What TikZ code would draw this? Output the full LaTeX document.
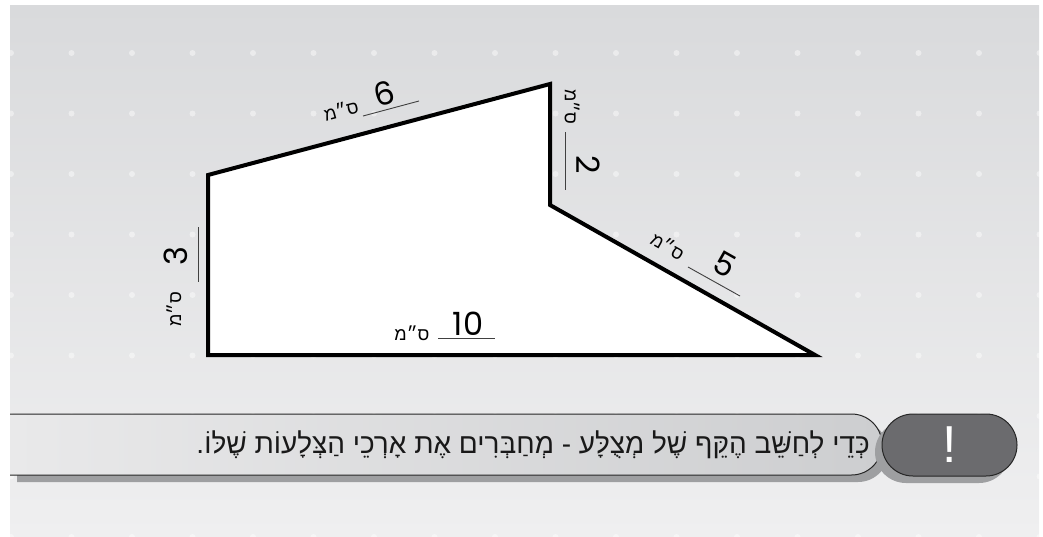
\documentclass[tikz,border=0pt]{standalone}
\usepackage{fontspec}
\setmainfont{Liberation Sans}
\newfontfamily\hebfont[Script=Hebrew]{Liberation Sans}
\newfontfamily\numfont{Poppins}
\TeXXeTstate=1
\usetikzlibrary{positioning,calc}

\definecolor{paneltop}{HTML}{D9DADC}
\definecolor{panelbot}{HTML}{EFEFF0}
\definecolor{pillL}{HTML}{E9E9EA}
\definecolor{pillR}{HTML}{CDCED0}
\definecolor{alertgray}{HTML}{6B6B6E}
\definecolor{shadowgray}{HTML}{9E9FA1}

\newcommand{\smunit}{\beginR ס״מ\endR}

\begin{document}
\begin{tikzpicture}[x=1pt, y=-1pt,
  outline/.style={line width=4pt, line join=miter, fill=white},
  tick/.style={draw=black!75, line width=0.9pt},
  num/.style={font=\numfont\fontsize{32}{32}\selectfont, inner sep=0pt},
  unit/.style={font=\hebfont\fontsize{18}{18}\selectfont, inner sep=0pt},
  alertpill/.style={draw=black!85, line width=1pt, fill=alertgray,
    rounded corners=31pt, minimum width=135pt, minimum height=62pt,
    text=white, font=\fontsize{52}{52}\selectfont}]
  \useasboundingbox (0,0) rectangle (1043,536);
  \shade[top color=paneltop, bottom color=panelbot] (10,5) rectangle (1039,536);
  \foreach \i in {0,...,17}
    \foreach \j in {0,...,8}
      \fill[white, opacity=0.45] (11+60.5*\i, 53+60.5*\j) circle (3);

  % the shape
  \coordinate (A) at (208,175);
  \coordinate (B) at (550,84);
  \coordinate (C) at (550,205);
  \coordinate (D) at (815,355);
  \coordinate (E) at (208,355);
  \draw[outline] (A) -- (B) -- (C) -- (D) -- (E) -- cycle;

  % side lengths
  \coordinate (t1) at (363,116);
  \coordinate (t2) at (419,101);
  \draw[tick] (t1) -- (t2);
  \node[num, rotate=14.9] (six) at (384,94) {6};
  \node[unit, rotate=14.9] (sixu) at (341,110) {\smunit};

  \coordinate (r1) at (565,132);
  \coordinate (r2) at (565,190);
  \draw[tick] (r1) -- (r2);
  \node[num, rotate=-90] (two) at (588,165) {2};
  \node[unit, rotate=-90] (twou) at (572,107) {\smunit};

  \coordinate (s1) at (688,267);
  \coordinate (s2) at (740,296);
  \draw[tick] (s1) -- (s2);
  \node[num, rotate=-29.5] (five) at (725,264) {5};
  \node[unit, rotate=-29.5] (fiveu) at (668,246) {\smunit};

  \coordinate (l1) at (198,227);
  \coordinate (l2) at (198,282);
  \draw[tick] (l1) -- (l2);
  \node[num, rotate=90] (three) at (176,256) {3};
  \node[unit, rotate=90] (threeu) at (174,309) {\smunit};

  \coordinate (b1) at (438,338);
  \coordinate (b2) at (495,338);
  \draw[tick] (b1) -- (b2);
  \node[num] (ten) at (468,324) {10};
  \node[unit] (tenu) at (412,333) {\smunit};

  % note bar
  \fill[shadowgray] (17,421) -- (858,421) arc[start angle=-90, end angle=90, radius=30.5] -- (17,482) -- cycle;
  \shade[left color=pillL, right color=pillR, draw=black!85, line width=1pt]
    (10,414) -- (851.5,414) arc[start angle=-90, end angle=90, radius=30.5] -- (10,475);
  \fill[shadowgray, rounded corners=31pt] (875,421) rectangle (1010,483);
  \node[alertpill] (alert) at (949.5,445) {!};
  \node[font=\hebfont\fontsize{28}{28}\selectfont, text=black!90, anchor=east, inner sep=0pt] (note) at (870,445)
    {\beginR כְּדֵי לְחַשֵּׁב הֶקֵּף שֶׁל מְצֻלָּע - מְחַבְּרִים אֶת אָרְכֵי הַצְּלָעוֹת שֶׁלּוֹ.\endR};
\end{tikzpicture}
\end{document}
